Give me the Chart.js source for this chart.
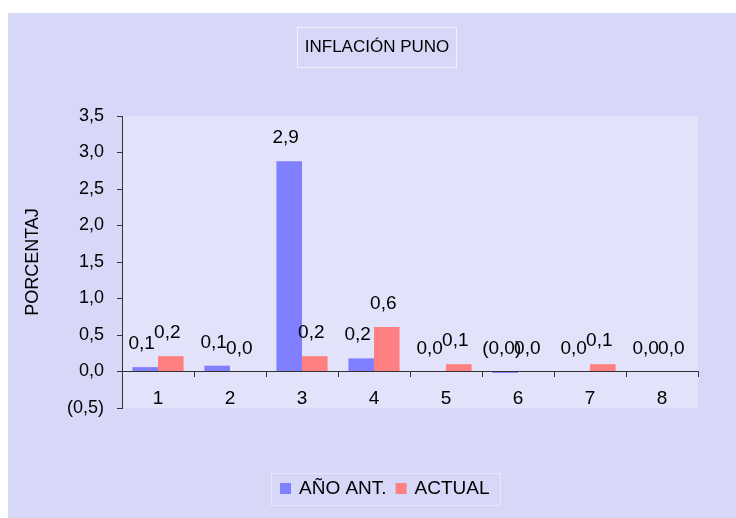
<!DOCTYPE html>
<html><head><meta charset="utf-8">
<script src="https://cdn.jsdelivr.net/npm/chart.js@4/dist/chart.umd.min.js"></script>
<style>html,body{margin:0;padding:0;background:#fff}#wrap{width:736px;height:518px}</style>
</head><body><div id="wrap"><canvas id="c" width="736" height="518"></canvas></div>
<script>
const categories = ['1', '2', '3', '4', '5', '6', '7', '8'];
const seriesNames = ['AÑO ANT.', 'ACTUAL'];
const anoAnt = [0.06, 0.08, 2.88, 0.18, 0.0, -0.02, 0.0, 0.0];
const actual = [0.21, 0.0, 0.21, 0.61, 0.10, 0.0, 0.10, 0.0];
const yMin = -0.5, yMax = 3.5, yStep = 0.5;
const chartTitle = 'INFLACIÓN PUNO';
const yTitle = 'PORCENTAJ';

const FONT = '"Liberation Sans", Arial, sans-serif';
const fmt = v => {
  const s = Math.abs(v).toFixed(1).replace('.', ',');
  return v < 0 ? '(' + s + ')' : s;
};

const bgPlugin = {
  id: 'bg',
  beforeDraw(chart) {
    const ctx = chart.ctx, a = chart.chartArea;
    ctx.save();
    ctx.fillStyle = '#ffffff';
    ctx.fillRect(0, 0, chart.width, chart.height);
    ctx.fillStyle = '#d7d7f7';
    ctx.fillRect(8, 13, chart.width - 8, chart.height - 13);
    ctx.fillStyle = '#e2e2fa';
    ctx.fillRect(a.left, a.top, a.right - a.left, a.bottom - a.top);
    ctx.restore();
  },
  afterDraw(chart) {
    const ctx = chart.ctx;
    ctx.save();
    // title box
    ctx.strokeStyle = '#f2f2ff';
    ctx.lineWidth = 1;
    ctx.strokeRect(297.5, 27.5, 159, 40);
    ctx.fillStyle = '#000';
    ctx.font = '17px ' + FONT;
    ctx.textAlign = 'center';
    ctx.textBaseline = 'middle';
    ctx.fillText(chartTitle, 377, 47);
    // legend
    ctx.strokeStyle = '#e8e8fc';
    ctx.strokeRect(271.5, 473.5, 229, 32);
    ctx.font = '19px ' + FONT;
    ctx.textAlign = 'left';
    let x = 280;
    chart.data.datasets.forEach(ds => {
      ctx.fillStyle = ds.backgroundColor;
      ctx.fillRect(x, 483, 11, 11);
      ctx.fillStyle = '#000';
      ctx.fillText(ds.label, x + 19, 489);
      x += 19 + ctx.measureText(ds.label).width + 9;
    });
    ctx.restore();
  },
  afterDatasetsDraw(chart) {
    const ctx = chart.ctx;
    const y0 = chart.scales.y.getPixelForValue(0);
    ctx.save();
    ctx.fillStyle = '#000';
    ctx.font = '19px ' + FONT;
    ctx.textAlign = 'center';
    ctx.textBaseline = 'alphabetic';
    chart.data.datasets.forEach((ds, di) => {
      const meta = chart.getDatasetMeta(di);
      meta.data.forEach((el, i) => {
        const top = Math.min(el.y, y0);
        ctx.fillText(fmt(ds.data[i]), el.x - 3.5, top - 18);
      });
    });
    ctx.restore();
  }
};

new Chart(document.getElementById('c'), {
  type: 'bar',
  data: {
    labels: categories,
    datasets: [
      { label: seriesNames[0], data: anoAnt, backgroundColor: '#8080ff', borderWidth: 0 },
      { label: seriesNames[1], data: actual, backgroundColor: '#ff8080', borderWidth: 0 }
    ]
  },
  options: {
    responsive: false,
    devicePixelRatio: 1,
    animation: false,
    layout: { padding: { left: 8, top: 116, right: 38, bottom: 110 } },
    datasets: { bar: { categoryPercentage: 0.71, barPercentage: 1.0 } },
    plugins: { legend: { display: false }, title: { display: false }, tooltip: { enabled: false } },
    scales: {
      x: {
        position: { y: 0 },
        offset: true,
        grid: { offset: true, drawOnChartArea: false, drawTicks: true, tickLength: 5, color: '#333' },
        border: { color: '#333', width: 1 },
        ticks: { color: '#000', font: { family: FONT, size: 19 }, padding: 11, maxRotation: 0 }
      },
      y: {
        position: 'left',
        min: yMin, max: yMax,
        afterFit(s) { s.width = 114; },
        grid: { drawOnChartArea: false, drawTicks: true, tickLength: 5, color: '#333' },
        border: { color: '#333', width: 1 },
        ticks: { stepSize: yStep, color: '#000', font: { family: FONT, size: 18 }, padding: 13, callback: v => fmt(v) },
        title: { display: true, text: yTitle, color: '#000', font: { family: FONT, size: 18 }, padding: { top: 14, bottom: 0 } }
      }
    }
  },
  plugins: [bgPlugin]
});
</script></body></html>
